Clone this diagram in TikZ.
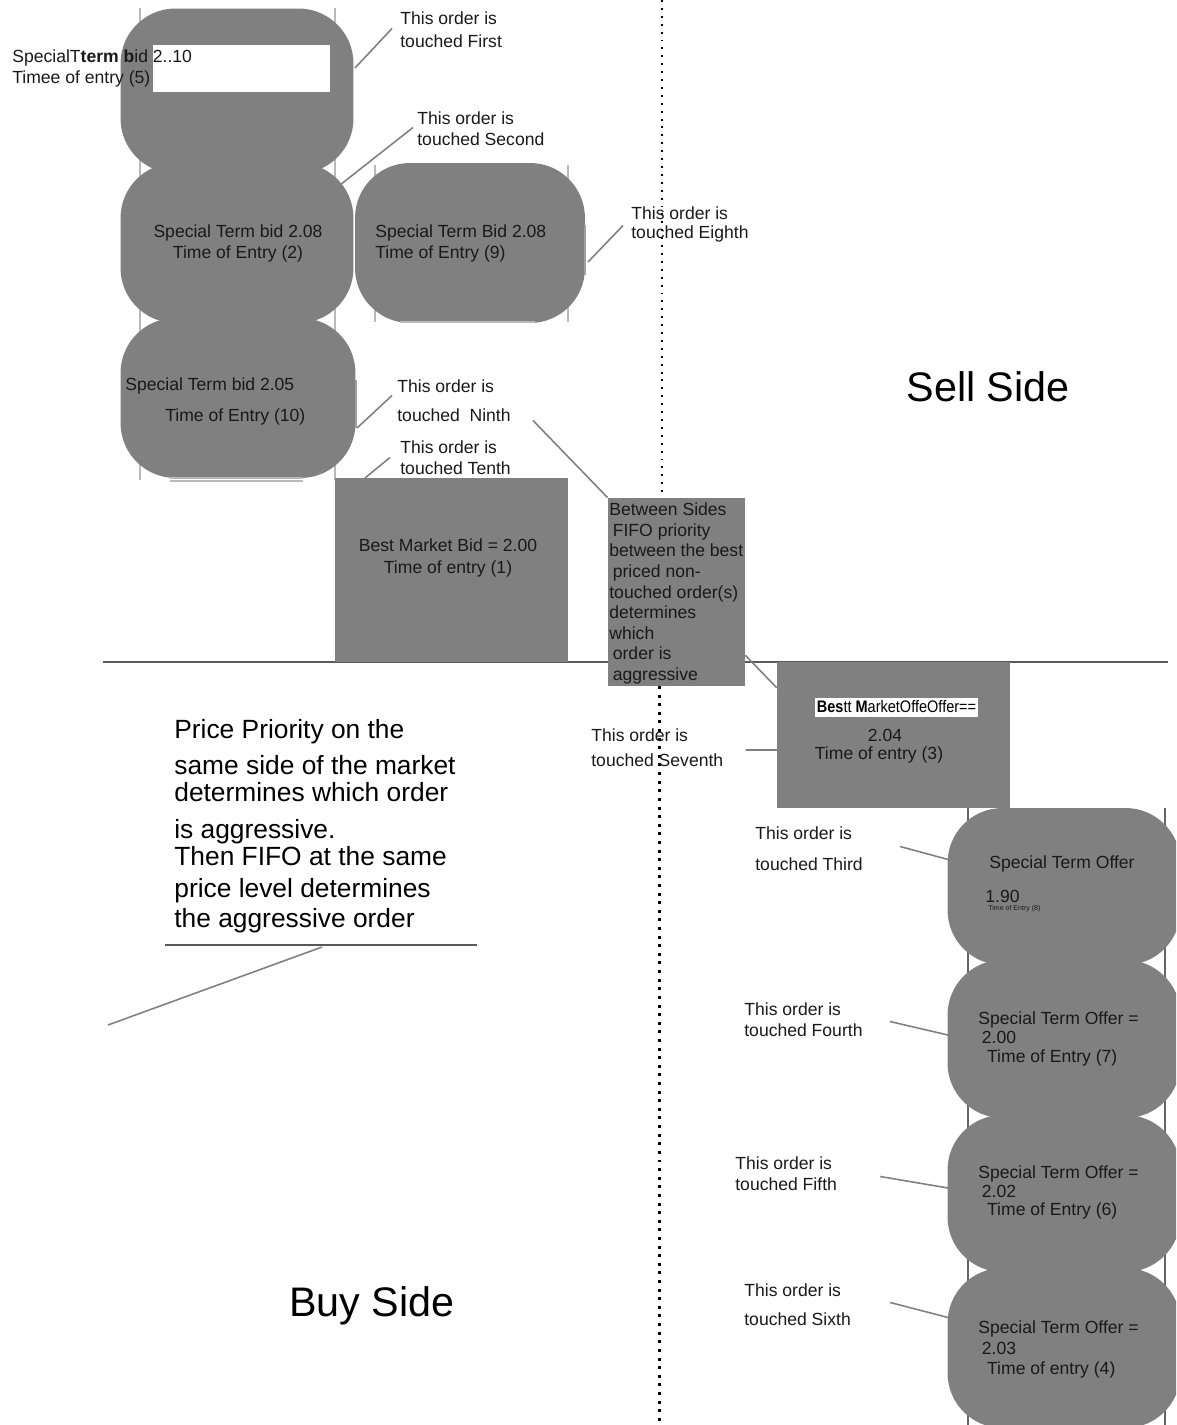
\documentclass[tikz,border=0pt]{standalone}
\usepackage{fontspec}
\setmainfont{Liberation Sans}
\usepackage{graphicx}

\begin{document}
\begin{tikzpicture}[x=0.02cm,y=-0.02cm,
		order/.style={fill=gray,rounded corners=1.1cm,inner sep=0pt,minimum width=4.66cm,minimum height=3.2cm},
		block/.style={fill=gray,inner sep=0pt},
		txt/.style={inner sep=0pt,text=black!90,font=\fontsize{10}{12}\selectfont},
		lbl/.style={txt,align=left,anchor=west},
		lead/.style={draw=gray,line width=0.9pt},
		guide/.style={draw=gray!55,line width=0.6pt}]
	\useasboundingbox (0,0) rectangle (1176,1425);
	\clip (0,0) rectangle (1176,1425);

	% market line and the time line
	\draw[black!65,line width=1.1pt] (103,662) -- (1168,662);
	\draw[line width=1.1pt,dash pattern=on 1.1pt off 3.4pt] (662,0) -- (662,500);
	\draw[line width=1.7pt,dash pattern=on 1.7pt off 3.2pt] (659,686) -- (659,1425);

	% buy side queue
	\draw[guide] (140,8) -- (140,480) (335,8) -- (335,480);
	\draw[guide] (375,165) -- (375,322) (568,165) -- (568,322);
	\node[order,minimum height=3.3cm] (bidA) at (237,91) {};
	\node[order] (bidB) at (237,243) {};
	\node[order,minimum width=4.6cm] (bidC) at (470,243) {};
	\node[order,minimum width=4.7cm] (bidD) at (238,398) {};
	\draw[guide] (400,322) -- (535,322);
	\draw[guide] (170,478) -- (303,478) (170,481) -- (303,481);
	\draw[guide,draw=gray!75] (356,380) -- (356,428) (585,225) -- (585,275);
	\node[fill=white,inner sep=0pt,minimum width=3.54cm,minimum height=0.94cm] (blank) at (241.5,68.5) {};
	\node[lbl] (bidAt) at (12,68.5) {SpecialT\textbf{term b}id 2..10\\Timee of entry (5)};
	\node[txt,align=center] (bidBt) at (238,243.5) {Special Term bid 2.08\\Time of Entry (2)};
	\node[lbl] (bidCt) at (375,243.5) {Special Term Bid 2.08\\Time of Entry (9)};
	\node[lbl] (bidDt) at (125,386) {Special Term bid 2.05};
	\node[lbl] (bidDu) at (165,417) {Time of Entry (10)};

	% best bid and the note between the sides
	\node[block,minimum width=4.66cm,minimum height=3.68cm] (bestBid) at (451.5,570) {};
	\node[txt,align=center] (bestBidt) at (448,558) {Best Market Bid = 2.00\\[0.5pt]Time of entry (1)};
	\node[block,minimum width=2.74cm,minimum height=3.76cm] (between) at (676.5,592) {};
	\node[lbl,font=\fontsize{10}{11.7}\selectfont] (betweent) at (609,593.5) {Between Sides\\\hspace*{2pt}FIFO priority\\between the best\\\hspace*{2pt}priced non-\\touched order(s)\\determines\\which\\\hspace*{2pt}order is\\\hspace*{2pt}aggressive};

	% sell side queue
	\node[block,minimum width=4.66cm,minimum height=2.92cm] (bestOffer) at (893.5,735) {};
	\node[fill=white,inner sep=0pt,minimum width=3.26cm,minimum height=0.38cm,font=\fontsize{9.5}{11}\selectfont] (offerTag) at (896.5,707) {\scalebox{0.87}[1]{\textbf{Bes}tt \textbf{M}arketOffeOffer==}};
	\node[txt] (bestOffera) at (885,735) {2.04};
	\node[txt] (bestOfferb) at (879,755) {Time of entry (3)};

	\draw[guide,draw=gray!80!black] (968,808) -- (968,1425) (1165,808) -- (1165,1425);
	\node[order,minimum height=3.14cm] (askA) at (1064,886.5) {};
	\node[order,minimum height=3.16cm] (askB) at (1064,1039) {};
	\node[order,minimum height=3.14cm] (askC) at (1064,1193.5) {};
	\node[order] (askD) at (1064,1348) {};
	\node[txt] (askAt) at (1062,864) {Special Term Offer};
	\node[lbl] (askAp) at (985,896) {1.90};
	\node[lbl,font=\fontsize{4}{5}\selectfont] (askAq) at (988,909) {Time of Entry (8)};
	\node[lbl,font=\fontsize{10}{10.6}\selectfont] (askBt) at (978,1039) {Special Term Offer =\\\hspace*{2pt}2.00\\\hspace*{5pt}Time of Entry (7)};
	\node[lbl,font=\fontsize{10}{10.6}\selectfont] (askCt) at (978,1192.5) {Special Term Offer =\\\hspace*{2pt}2.02\\\hspace*{5pt}Time of Entry (6)};
	\node[lbl,font=\fontsize{10}{11.6}\selectfont] (askDt) at (978,1349.5) {Special Term Offer =\\\hspace*{2pt}2.03\\\hspace*{5pt}Time of entry (4)};

	% which order is touched when
	\node[lbl] (first) at (400,29.5) {This order is\\[1pt]touched First};
	\node[lbl] (second) at (417,128.5) {This order is\\touched Second};
	\node[lbl] (eighth) at (631,224.5) {This order is\\[-1pt]touched Eighth};
	\node[lbl] (ninth) at (397,400.5) {This order is\\[4.5pt]touched\ \ Ninth};
	\node[lbl] (tenth) at (400,457.5) {This order is\\touched Tenth};
	\node[lbl] (seventh) at (591,747.5) {This order is\\[2pt]touched Seventh};
	\node[lbl] (third) at (755,848.5) {This order is\\[5.5pt]touched Third};
	\node[lbl] (fourth) at (744,1019.5) {This order is\\touched Fourth};
	\node[lbl] (fifth) at (735,1173.5) {This order is\\touched Fifth};
	\node[lbl] (sixth) at (744,1304.5) {This order is\\[4.5pt]touched Sixth};

	\coordinate (hitFirst) at (355,68);
	\coordinate (hitSecond) at (340,185);
	\coordinate (hitEighth) at (588,262);
	\coordinate (hitNinth) at (357,428);
	\coordinate (hitTenth) at (365,478);
	\coordinate (hitSeventh) at (777,750);
	\coordinate (hitThird) at (950,860);
	\coordinate (hitFourth) at (948,1035);
	\coordinate (hitFifth) at (948,1188);
	\coordinate (hitSixth) at (950,1318);
	\draw[lead] ([shift={(-8,-1)}]first.west) -- (hitFirst);
	\draw[lead] ([shift={(-4,-1)}]second.west) -- (hitSecond);
	\draw[lead] ([shift={(-8,1)}]eighth.west) -- (hitEighth);
	\draw[lead] ([shift={(-5,-5)}]ninth.west) -- (hitNinth);
	\draw[lead] ([shift={(-10,0)}]tenth.west) -- (hitTenth);
	\draw[lead] ([shift={(22,20)}]ninth.east) -- (between.north west);
	\draw[lead] ([shift={(0,-31)}]between.south east) -- ([shift={(0,26)}]bestOffer.north west);
	\draw[lead] ([shift={(22,2.5)}]seventh.east) -- (hitSeventh);
	\draw[lead] ([shift={(37,-2)}]third.east) -- (hitThird);
	\draw[lead] ([shift={(27,2)}]fourth.east) -- (hitFourth);
	\draw[lead] ([shift={(43,3)}]fifth.east) -- (hitFifth);
	\draw[lead] ([shift={(39,-2)}]sixth.east) -- (hitSixth);

	% the rule on the left
	\node[lbl,text=black,font=\fontsize{15}{15.5}\selectfont] (priority) at (174,826) {Price Priority on the\\[5pt]same side of the market\\determines which order\\[5.5pt]is aggressive.\\Then FIFO at the same\\[2.8pt]price level determines\\[1.5pt]the aggressive order};
	\draw[black!65,line width=1.2pt] (165,945) -- (477,945);
	\coordinate (ulMid) at (322,947);
	\coordinate (tail) at (108,1025);
	\draw[lead] (ulMid) -- (tail);

	\node[txt,text=black,font=\fontsize{23.5}{28}\selectfont] (sell) at (988,387) {Sell Side};
	\node[txt,text=black,font=\fontsize{23.5}{28}\selectfont] (buy) at (372,1306) {Buy Side};
\end{tikzpicture}
\end{document}
